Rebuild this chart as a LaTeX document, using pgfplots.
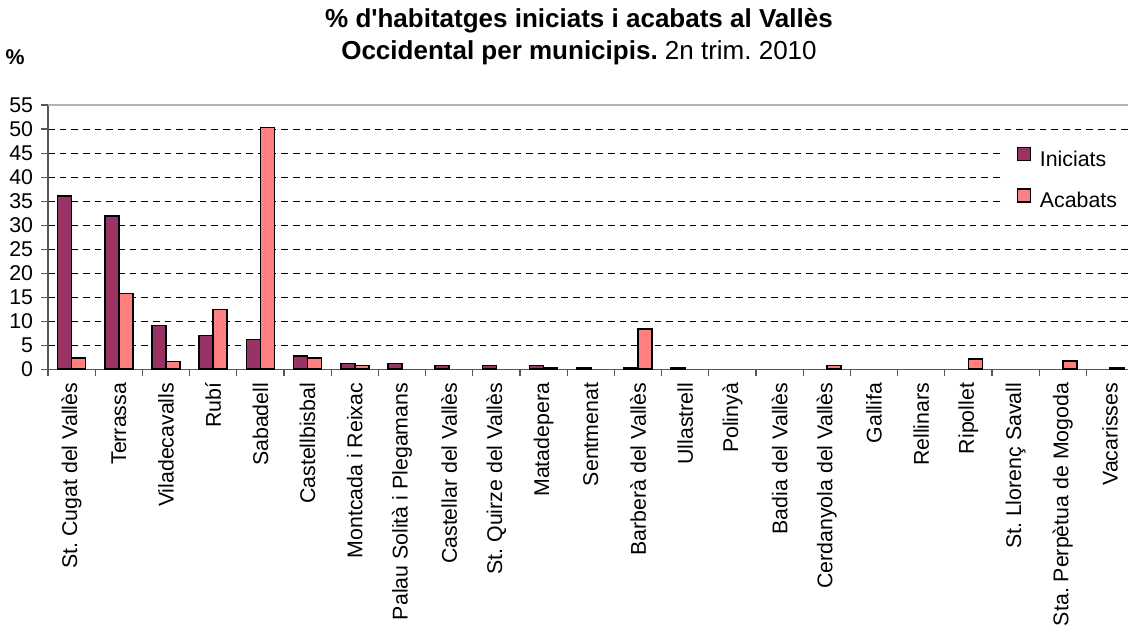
\documentclass[border=0pt]{standalone}
\usepackage{pgfplots}
\pgfplotsset{compat=1.18}
\usepackage{fontspec}
\setmainfont{Liberation Sans}
\frenchspacing
\definecolor{inic}{HTML}{993366}
\definecolor{acab}{HTML}{FF8080}
\definecolor{axgray}{HTML}{555555}
\begin{document}
\begin{tikzpicture}
\useasboundingbox (0,0) rectangle (846pt,470.25pt);
\begin{axis}[
  at={(36pt,193.3pt)}, anchor=south west,
  scale only axis, width=814.2pt, height=198.2pt,
  xmin=-0.5, xmax=22.5, ymin=0, ymax=55,
  axis x line*=bottom, axis y line*=left,
  axis line style={draw=axgray, line width=1pt},
  ybar=0pt, bar width=10.5pt,
  xtick={0,...,22},
  xticklabels={St.\ Cugat del Vallès, Terrassa, Viladecavalls, Rubí, Sabadell, Castellbisbal, Montcada i Reixac, Palau Solità i Plegamans, Castellar del Vallès, St.\ Quirze del Vallès, Matadepera, Sentmenat, Barberà del Vallès, Ullastrell, Polinyà, Badia del Vallès, Cerdanyola del Vallès, Gallifa, Rellinars, Ripollet, St.\ Llorenç Savall, Sta.\ Perpètua de Mogoda, Vacarisses},
  minor xtick={-0.5,0.5,...,21.5},
  major x tick style={draw=none},
  minor x tick style={draw=axgray, line width=0.8pt},
  major y tick style={draw=axgray, line width=0.8pt},
  tick align=outside,
  major tick length=5pt, minor tick length=5pt,
  ytick={0,5,...,50},
  extra y ticks={55},
  extra y tick style={grid=major, major grid style={solid, draw=gray!60, line width=1.2pt}},
  ymajorgrids,
  major grid style={draw=black, line width=0.75pt, dash pattern=on 5pt off 3.75pt},
  tick label style={font=\fontsize{16}{19}\selectfont},
  /pgf/number format/assume math mode=true,
  xticklabel style={rotate=90, anchor=east, inner sep=0pt},
  yticklabel style={anchor=east, inner sep=0pt},
  xticklabel shift=5pt,
  yticklabel shift=6pt,
  legend style={at={(0.8815,0.8676)}, anchor=north west, draw=none, fill=white,
    inner xsep=8.5pt, inner ysep=4.7pt,
    font=\fontsize{16}{19}\selectfont,
    nodes={inner sep=0pt, text height=12pt, text depth=3pt},
    row sep=13.5pt, column sep=6.75pt},
  legend cell align=left,
  legend image code/.code={\draw[#1, draw=black, line width=1pt] (0pt,0pt) rectangle (9.75pt,9.75pt);},
]
\addplot[fill=inic, draw=black, line width=1.2pt] coordinates {
  (0,36.1) (1,31.9) (2,9.1) (3,7.0) (4,6.2) (5,2.8) (6,1.2) (7,1.2)
  (8,0.8) (9,0.8) (10,0.8) (11,0.4) (12,0.4) (13,0.4)
};
\addplot[fill=acab, draw=black, line width=1.2pt] coordinates {
  (0,2.4) (1,15.8) (2,1.6) (3,12.4) (4,50.3) (5,2.4) (6,0.8) (10,0.4)
  (12,8.4) (16,0.8) (19,2.1) (21,1.7) (22,0.4)
};
\legend{Iniciats, Acabats}
\end{axis}
\node[anchor=base, font=\fontsize{19.5}{23}\selectfont\bfseries] at (434.25pt,449.25pt) {\% d\textquotesingle habitatges iniciats i acabats al Vallès};
\node[anchor=base, font=\fontsize{19.5}{23}\selectfont] at (434.25pt,425.25pt) {\textbf{Occidental per municipis.} 2n trim. 2010};
\node[font=\fontsize{16}{19}\selectfont\bfseries] at (11.25pt,427.5pt) {\%};
\end{tikzpicture}
\end{document}
